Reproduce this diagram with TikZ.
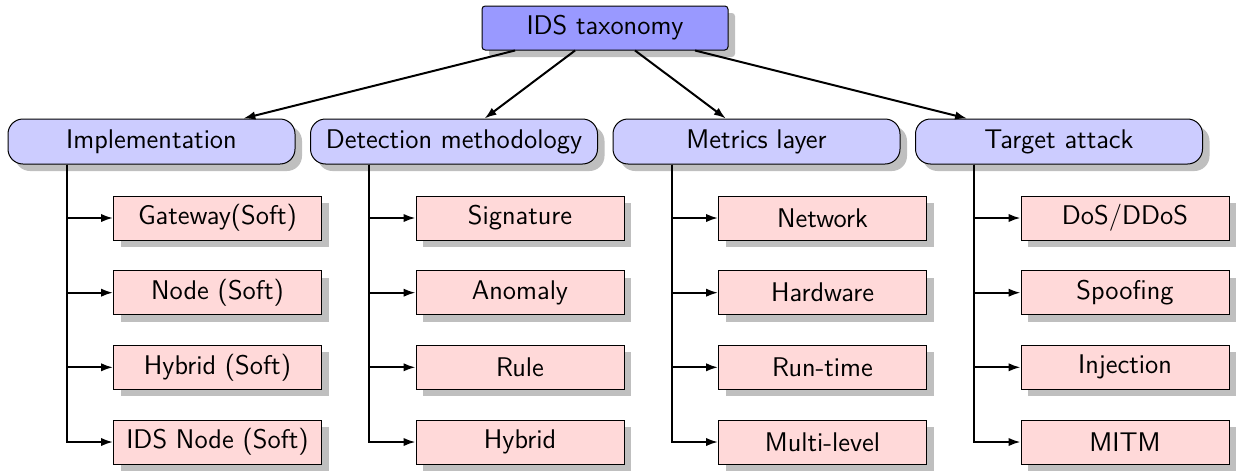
\documentclass[tikz,border=0pt]{standalone}
\usepackage{fontspec}
\usetikzlibrary{shadows,arrows.meta}
\begin{document}
\begin{tikzpicture}[x=0.5pt,y=-0.5pt,
  every node/.style={font=\sffamily\fontsize{13.5}{16}\selectfont, inner sep=0pt, align=center},
  boxshadow/.style={drop shadow={shadow xshift=3.5pt, shadow yshift=-3.5pt, fill=black!25, opacity=1}},
  rootbox/.style={draw=black, line width=0.5pt, fill=blue!40, rounded corners=1.6pt,
    minimum width=123pt, minimum height=22pt, boxshadow},
  catbox/.style={draw=black, line width=0.5pt, fill=blue!20, rounded corners=7.5pt,
    minimum width=143.5pt, minimum height=22.5pt, boxshadow},
  leafbox/.style={draw=black, line width=0.5pt, fill=red!15,
    minimum width=104pt, minimum height=22pt, boxshadow},
  arr/.style={-{Latex[length=6pt,width=4.2pt]}, line width=1pt}
]
\useasboundingbox (0,0) rectangle (1240,471);

% root
\node[rootbox] (root) at (605,28) {IDS taxonomy};

% categories
\node[catbox] (impl) at (151.5,141.5) {Implementation};
\node[catbox] (det)  at (454,141.5)   {Detection methodology};
\node[catbox] (met)  at (756.5,141.5) {Metrics layer};
\node[catbox] (tar)  at (1059,141.5)  {Target attack};

% trunk tops below each category
\coordinate (ti) at ([xshift=-42.5pt]impl.south);
\coordinate (td) at ([xshift=-42.5pt]det.south);
\coordinate (tm) at ([xshift=-42.5pt]met.south);
\coordinate (tt) at ([xshift=-42.5pt]tar.south);

% leaves: implementation
\node[leafbox] (i1) at (217.5,218)   {Gateway(Soft)};
\node[leafbox] (i2) at (217.5,292.7) {Node (Soft)};
\node[leafbox] (i3) at (217.5,367.3) {Hybrid (Soft)};
\node[leafbox] (i4) at (217.5,442)   {IDS Node (Soft)};

% leaves: detection methodology
\node[leafbox] (d1) at (520,218)   {Signature};
\node[leafbox] (d2) at (520,292.7) {Anomaly};
\node[leafbox] (d3) at (520,367.3) {Rule};
\node[leafbox] (d4) at (520,442)   {Hybrid};

% leaves: metrics layer
\node[leafbox] (m1) at (822.5,218)   {Network};
\node[leafbox] (m2) at (822.5,292.7) {Hardware};
\node[leafbox] (m3) at (822.5,367.3) {Run-time};
\node[leafbox] (m4) at (822.5,442)   {Multi-level};

% leaves: target attack
\node[leafbox] (t1) at (1125,218)   {DoS/DDoS};
\node[leafbox] (t2) at (1125,292.7) {Spoofing};
\node[leafbox] (t3) at (1125,367.3) {Injection};
\node[leafbox] (t4) at (1125,442)   {MITM};

% root to categories
\foreach \c in {impl,det,met,tar}
  \draw[arr] (root) -- (\c);

% categories to leaves
\foreach \k in {1,...,4} {
  \draw[arr] (ti) |- (i\k.west);
  \draw[arr] (td) |- (d\k.west);
  \draw[arr] (tm) |- (m\k.west);
  \draw[arr] (tt) |- (t\k.west);
}
\end{tikzpicture}
\end{document}
